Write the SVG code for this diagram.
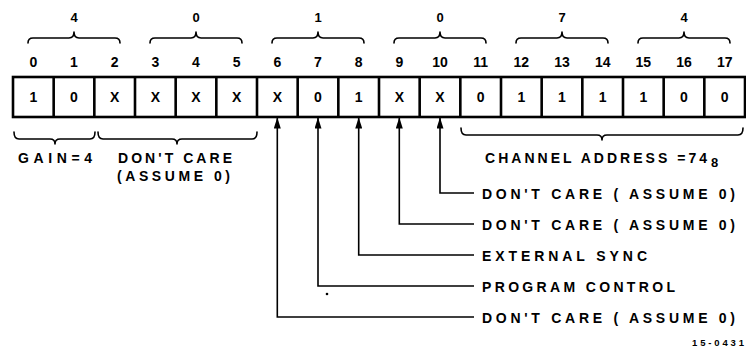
<svg xmlns="http://www.w3.org/2000/svg" width="746" height="350" viewBox="0 0 746 350">
<style>
  .t { font-family: "Liberation Sans", Arial, sans-serif; font-weight: bold; fill: #000; }
  .num { font-size: 13px; text-anchor: middle; }
  .bit { font-size: 14px; text-anchor: middle; }
  .val { font-size: 14px; text-anchor: middle; }
  .lab { font-size: 14px; }
  .brace { fill: none; stroke: #000; stroke-width: 1.6; stroke-linecap: round; stroke-linejoin: round; }
  .reg { fill: #fff; stroke: #000; stroke-width: 2.6; }
  .div { stroke: #000; stroke-width: 2.6; }
  .lead { fill: none; stroke: #000; stroke-width: 1.6; }
</style>
<defs>
  <marker id="arr" markerUnits="userSpaceOnUse" viewBox="0 0 11 7" refX="11" refY="3.5" markerWidth="11" markerHeight="7" orient="auto">
    <path d="M0,0 L11,3.5 L0,7 z" fill="#000"/>
  </marker>
</defs>
<rect width="746" height="350" fill="#fff"/>

<g id="group-values">
  <text class="t num" x="74" y="22">4</text>
  <text class="t num" x="196" y="22">0</text>
  <text class="t num" x="318" y="22">1</text>
  <text class="t num" x="440" y="22">0</text>
  <text class="t num" x="562" y="22">7</text>
  <text class="t num" x="684" y="22">4</text>
</g>

<g id="top-braces">
  <path class="brace" d="M28,43 Q28,38 33,38 L69,38 Q74,38 74,32 Q74,38 79,38 L115,38 Q120,38 120,43"/>
  <path class="brace" d="M150,43 Q150,38 155,38 L191,38 Q196,38 196,32 Q196,38 201,38 L237,38 Q242,38 242,43"/>
  <path class="brace" d="M272,43 Q272,38 277,38 L313,38 Q318,38 318,32 Q318,38 323,38 L359,38 Q364,38 364,43"/>
  <path class="brace" d="M394,43 Q394,38 399,38 L435,38 Q440,38 440,32 Q440,38 445,38 L481,38 Q486,38 486,43"/>
  <path class="brace" d="M516,43 Q516,38 521,38 L557,38 Q562,38 562,32 Q562,38 567,38 L603,38 Q608,38 608,43"/>
  <path class="brace" d="M638,43 Q638,38 643,38 L679,38 Q684,38 684,32 Q684,38 689,38 L725,38 Q730,38 730,43"/>
</g>

<g id="bit-numbers">
  <text class="t bit" x="33.3" y="67">0</text>
  <text class="t bit" x="74" y="67">1</text>
  <text class="t bit" x="114.7" y="67">2</text>
  <text class="t bit" x="155.3" y="67">3</text>
  <text class="t bit" x="196" y="67">4</text>
  <text class="t bit" x="236.7" y="67">5</text>
  <text class="t bit" x="277.3" y="67">6</text>
  <text class="t bit" x="318" y="67">7</text>
  <text class="t bit" x="358.7" y="67">8</text>
  <text class="t bit" x="399.3" y="67">9</text>
  <text class="t bit" x="440" y="67">10</text>
  <text class="t bit" x="480.7" y="67">11</text>
  <text class="t bit" x="521.3" y="67">12</text>
  <text class="t bit" x="562" y="67">13</text>
  <text class="t bit" x="602.7" y="67">14</text>
  <text class="t bit" x="643.3" y="67">15</text>
  <text class="t bit" x="684" y="67">16</text>
  <text class="t bit" x="724.7" y="67">17</text>
</g>

<g id="register">
  <rect class="reg" x="13" y="77" width="732" height="40"/>
  <path class="div" d="M53.67,77V117 M94.33,77V117 M135,77V117 M175.67,77V117 M216.33,77V117 M257,77V117 M297.67,77V117 M338.33,77V117 M379,77V117 M419.67,77V117 M460.33,77V117 M501,77V117 M541.67,77V117 M582.33,77V117 M623,77V117 M663.67,77V117 M704.33,77V117"/>
  <text class="t val" x="33.3" y="102">1</text>
  <text class="t val" x="74" y="102">0</text>
  <text class="t val" x="114.7" y="102">X</text>
  <text class="t val" x="155.3" y="102">X</text>
  <text class="t val" x="196" y="102">X</text>
  <text class="t val" x="236.7" y="102">X</text>
  <text class="t val" x="277.3" y="102">X</text>
  <text class="t val" x="318" y="102">0</text>
  <text class="t val" x="358.7" y="102">1</text>
  <text class="t val" x="399.3" y="102">X</text>
  <text class="t val" x="440" y="102">X</text>
  <text class="t val" x="480.7" y="102">0</text>
  <text class="t val" x="521.3" y="102">1</text>
  <text class="t val" x="562" y="102">1</text>
  <text class="t val" x="602.7" y="102">1</text>
  <text class="t val" x="643.3" y="102">1</text>
  <text class="t val" x="684" y="102">0</text>
  <text class="t val" x="724.7" y="102">0</text>
</g>

<g id="gain">
  <path class="brace" d="M14,132 Q14,139 19,139 L50,139 Q55,139 55,144 Q55,139 60,139 L90,139 Q95,139 95,132"/>
  <text class="t lab" x="18" y="163" textLength="74" lengthAdjust="spacing">GAIN=4</text>
</g>

<g id="dont-care-3-5">
  <path class="brace" d="M98,132 Q98,139 103,139 L172,139 Q177,139 177,144 Q177,139 182,139 L252,139 Q257,139 257,132"/>
  <text class="t lab" x="118" y="163" textLength="114" lengthAdjust="spacing">DON'T CARE</text>
  <text class="t lab" x="117" y="181" textLength="113" lengthAdjust="spacing">(ASSUME 0)</text>
</g>

<g id="channel-address">
  <path class="brace" d="M461,128 Q461,135 466,135 L597,135 Q602,135 602,140 Q602,135 607,135 L738,135 Q743,135 743,128"/>
  <text class="t lab" x="485" y="163" textLength="222" lengthAdjust="spacing">CHANNEL ADDRESS =74</text>
  <text class="t" x="711" y="167" font-size="13">8</text>
</g>

<g id="connectors">
  <path class="lead" marker-end="url(#arr)" d="M474,193 H440 V117.5"/>
  <path class="lead" marker-end="url(#arr)" d="M474,224 H399.3 V117.5"/>
  <path class="lead" marker-end="url(#arr)" d="M474,255 H358.7 V117.5"/>
  <path class="lead" marker-end="url(#arr)" d="M474,286 H318 V117.5"/>
  <path class="lead" marker-end="url(#arr)" d="M474,317 H277.3 V117.5"/>
</g>

<g id="bit10-label">
  <text class="t lab" x="482" y="198.5" textLength="253" lengthAdjust="spacing">DON'T CARE ( ASSUME 0)</text>
</g>
<g id="bit9-label">
  <text class="t lab" x="482" y="229.5" textLength="253" lengthAdjust="spacing">DON'T CARE ( ASSUME 0)</text>
</g>
<g id="bit8-label">
  <text class="t lab" x="482" y="260.5" textLength="165" lengthAdjust="spacing">EXTERNAL SYNC</text>
</g>
<g id="bit7-label">
  <text class="t lab" x="482" y="291.5" textLength="193" lengthAdjust="spacing">PROGRAM CONTROL</text>
</g>
<g id="bit6-label">
  <text class="t lab" x="482" y="322.5" textLength="253" lengthAdjust="spacing">DON'T CARE ( ASSUME 0)</text>
</g>

<circle cx="327" cy="294" r="1.3" fill="#000"/>
<text class="t" x="744" y="346" font-size="9.5" text-anchor="end" textLength="52" lengthAdjust="spacing">15-0431</text>
</svg>
